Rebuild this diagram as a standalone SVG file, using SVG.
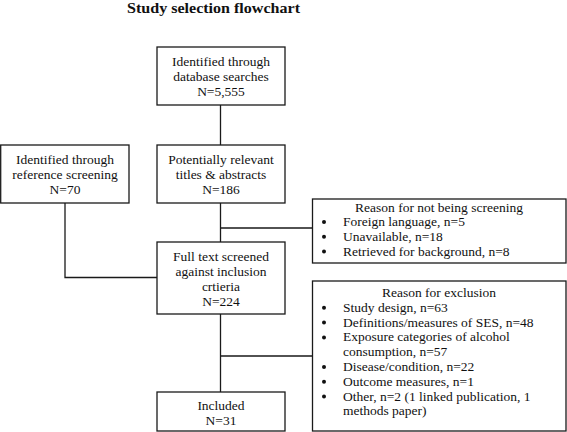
<svg xmlns="http://www.w3.org/2000/svg" width="567" height="432" viewBox="0 0 567 432">
<style>
.box{fill:#fff;stroke:#1a1a1a;stroke-width:1.3}
.ln{fill:none;stroke:#1a1a1a;stroke-width:1.3}
text{font-family:"Liberation Serif","Times New Roman",serif;font-size:13.5px;fill:#111}
.c{text-anchor:middle}
.t{font-weight:bold;font-size:14.5px}
.dot{fill:#111}
</style>
<rect width="567" height="432" fill="#fff"/>
<text class="t" x="127" y="12.5" textLength="173" lengthAdjust="spacingAndGlyphs">Study selection flowchart</text>
<g id="connectors">
<path class="ln" d="M220.5 105V145M220.5 203V242M220.5 314V392M65 203V277.5H157M220.5 228H312.5M220.5 356H312.5"/>
</g>
<g id="db">
<rect class="box" x="157" y="47" width="128" height="58"/>
<text class="c" x="221" y="66">Identified through</text>
<text class="c" x="221" y="81">database searches</text>
<text class="c" x="221" y="96">N=5,555</text>
</g>
<g id="ref">
<rect class="box" x="0.7" y="145" width="128.3" height="58"/>
<text class="c" x="65" y="164">Identified through</text>
<text class="c" x="65" y="179">reference screening</text>
<text class="c" x="65" y="194">N=70</text>
</g>
<g id="titles">
<rect class="box" x="157" y="145" width="128" height="58"/>
<text class="c" x="221" y="164">Potentially relevant</text>
<text class="c" x="221" y="179">titles &amp; abstracts</text>
<text class="c" x="221" y="194">N=186</text>
</g>
<g id="fulltext">
<rect class="box" x="157" y="242" width="128" height="72"/>
<text class="c" x="221" y="261">Full text screened</text>
<text class="c" x="221" y="276">against inclusion</text>
<text class="c" x="221" y="291">crtieria</text>
<text class="c" x="221" y="306">N=224</text>
</g>
<g id="included">
<rect class="box" x="157" y="392" width="128" height="39"/>
<text class="c" x="221" y="410">Included</text>
<text class="c" x="221" y="425">N=31</text>
</g>
<g id="notscreened">
<rect class="box" x="312.5" y="199" width="253.5" height="64"/>
<text class="c" x="439" y="211.5">Reason for not being screening</text>
<circle class="dot" cx="324" cy="222" r="2"/>
<circle class="dot" cx="324" cy="236.8" r="2"/>
<circle class="dot" cx="324" cy="251.6" r="2"/>
<text x="343" y="226">Foreign language, n=5</text>
<text x="343" y="240.8">Unavailable, n=18</text>
<text x="343" y="255.6">Retrieved for background, n=8</text>
</g>
<g id="exclusion">
<rect class="box" x="312.5" y="281" width="253.5" height="150"/>
<text class="c" x="439" y="297">Reason for exclusion</text>
<circle class="dot" cx="324" cy="307.8" r="2"/>
<circle class="dot" cx="324" cy="322.6" r="2"/>
<circle class="dot" cx="324" cy="337.4" r="2"/>
<circle class="dot" cx="324" cy="367" r="2"/>
<circle class="dot" cx="324" cy="381.8" r="2"/>
<circle class="dot" cx="324" cy="396.6" r="2"/>
<text x="343" y="311.8">Study design, n=63</text>
<text x="343" y="326.6">Definitions/measures of SES, n=48</text>
<text x="343" y="341.4">Exposure categories of alcohol</text>
<text x="343" y="356.2">consumption, n=57</text>
<text x="343" y="371">Disease/condition, n=22</text>
<text x="343" y="385.8">Outcome measures, n=1</text>
<text x="343" y="400.6">Other, n=2 (1 linked publication, 1</text>
<text x="343" y="415.4">methods paper)</text>
</g>
</svg>
